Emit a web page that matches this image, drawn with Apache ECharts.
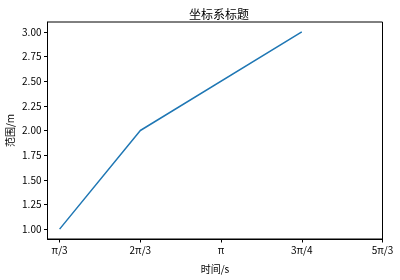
<!DOCTYPE html>
<html><head><meta charset="utf-8">
<script src="https://cdn.jsdelivr.net/npm/echarts@6/dist/echarts.min.js"></script>
<style>html,body{margin:0;padding:0;background:#fff}#c{width:400px;height:280px}</style>
</head><body><div id="c"></div>
<script>
const xValues = [1, 2, 4];
const yValues = [1, 2, 3];
const xTickValues = [1, 2, 3, 4, 5];
const xTickLabels = ['π/3', '2π/3', 'π', '3π/4', '5π/3'];
const yTickValues = [1, 1.25, 1.5, 1.75, 2, 2.25, 2.5, 2.75, 3];
const titleText = '坐标系标题';
const xName = '时间/s';
const yName = '范围/m';

const font = '"Noto Sans CJK SC", sans-serif';
const chart = echarts.init(document.getElementById('c'), null, {renderer: 'canvas'});
chart.setOption({
  animation: false,
  title: {text: titleText, left: 214, top: 3, textAlign: 'center',
    textStyle: {fontFamily: font, fontSize: 12, fontWeight: 'normal', color: '#000'}},
  grid: {left: 47.5, right: 17.5, top: 22, bottom: 41, show: true, borderColor: '#000', borderWidth: 1,
    containLabel: false, outerBoundsMode: 'none'},
  xAxis: {
    type: 'value', min: 0.85, max: 5,
    name: xName, nameLocation: 'middle', nameGap: 25, nameMoveOverlap: false,
    nameTextStyle: {fontFamily: font, fontSize: 10, color: '#000'},
    axisLine: {show: true, onZero: false, lineStyle: {color: '#000', width: 1}},
    axisTick: {show: true, customValues: xTickValues, length: 3.5, lineStyle: {color: '#000'}},
    axisLabel: {customValues: xTickValues, fontFamily: font, fontSize: 10, color: '#000', margin: 6,
      formatter: v => xTickLabels[xTickValues.indexOf(Math.round(v))] || ''},
    splitLine: {show: false}
  },
  yAxis: {
    type: 'value', min: 0.9, max: 3.1,
    name: yName, nameLocation: 'middle', nameGap: 32, nameMoveOverlap: false,
    nameTextStyle: {fontFamily: font, fontSize: 10, color: '#000'},
    axisLine: {show: true, onZero: false, lineStyle: {color: '#000', width: 1}},
    axisTick: {show: true, customValues: yTickValues, length: 3.5, lineStyle: {color: '#000'}},
    axisLabel: {customValues: yTickValues, fontFamily: font, fontSize: 10, color: '#000', margin: 6,
      formatter: v => v.toFixed(2)},
    splitLine: {show: false}
  },
  series: [{
    type: 'line', data: xValues.map((x, i) => [x, yValues[i]]),
    showSymbol: false, lineStyle: {color: '#1f77b4', width: 1.5}, itemStyle: {color: '#1f77b4'}
  }]
});
</script></body></html>
